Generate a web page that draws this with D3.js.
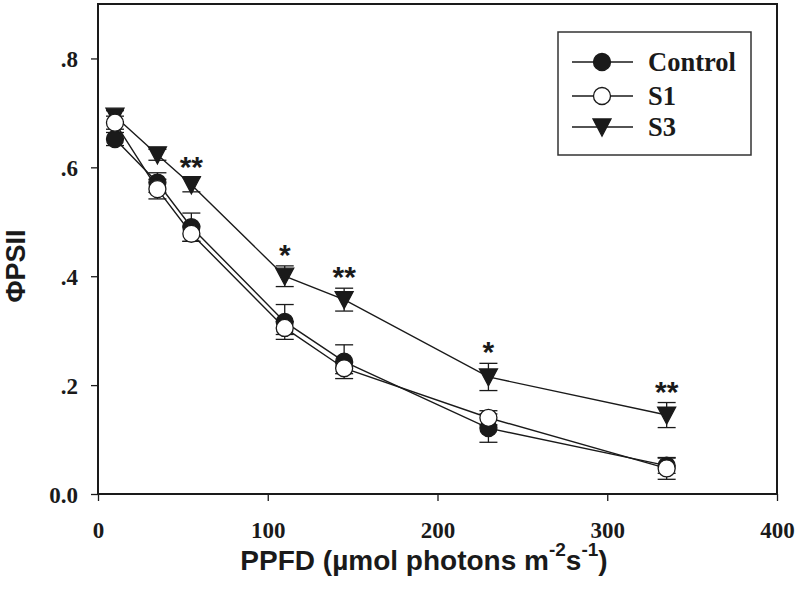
<!DOCTYPE html>
<html>
<head>
<meta charset="utf-8">
<script src="https://cdn.jsdelivr.net/npm/d3@7"></script>
<style>
  html, body { margin: 0; padding: 0; background: #fff; }
  svg { display: block; }
</style>
</head>
<body>
<svg id="chart" width="800" height="595"></svg>
<script>
// ---- data ----
const ppfd = [10, 35, 55, 110, 145, 230, 335];
const controlMean = [0.652, 0.572, 0.490, 0.316, 0.243, 0.121, 0.052];
const controlErr  = [0.012, 0.018, 0.026, 0.032, 0.031, 0.026, 0.014];
const s1Mean = [0.682, 0.560, 0.478, 0.305, 0.231, 0.140, 0.047];
const s1Err  = [0.012, 0.018, 0.014, 0.012, 0.010, 0.013, 0.020];
const s3Mean = [0.694, 0.623, 0.568, 0.400, 0.357, 0.215, 0.145];
const s3Err  = [0.010, 0.010, 0.013, 0.019, 0.021, 0.025, 0.023];
const signif = ["", "", "**", "*", "**", "*", "**"];
const xTicks = [0, 100, 200, 300, 400];
const yTicks = [0, 0.2, 0.4, 0.6, 0.8];
const yTickLabels = ["0.0", ".2", ".4", ".6", ".8"];
const seriesNames = ["Control", "S1", "S3"];

// ---- layout ----
const svg = d3.select("#chart");
const L = 98, R = 777, T = 4, B = 494;
const x = d3.scaleLinear().domain([0, 400]).range([L, R]);
const y = d3.scaleLinear().domain([0, 0.9]).range([B, T]);
const ink = "#1a1a1a";
const serif = "'Liberation Serif', 'Times New Roman', serif";
const sans = "'Liberation Sans', Arial, sans-serif";

// frame
svg.append("rect").attr("x", L).attr("y", T).attr("width", R - L).attr("height", B - T)
  .attr("fill", "none").attr("stroke", ink).attr("stroke-width", 2);

// axes
const xAxis = d3.axisBottom(x).tickValues(xTicks).tickSize(7).tickFormat(d3.format("d"));
const gx = svg.append("g").attr("transform", `translate(0,${B})`).call(xAxis);
gx.select(".domain").remove();
gx.selectAll(".tick line").attr("stroke", ink).attr("stroke-width", 1.3);
gx.selectAll(".tick text").attr("font-family", serif).attr("font-weight", "bold")
  .attr("font-size", 23).attr("fill", ink).attr("y", 44).attr("dy", 0);

const yAxis = d3.axisLeft(y).tickValues(yTicks).tickSize(7)
  .tickFormat((d, i) => yTickLabels[i]);
const gy = svg.append("g").attr("transform", `translate(${L},0)`).call(yAxis);
gy.select(".domain").remove();
gy.selectAll(".tick line").attr("stroke", ink).attr("stroke-width", 1.3);
gy.selectAll(".tick text").attr("font-family", serif).attr("font-weight", "bold")
  .attr("font-size", 23).attr("fill", ink).attr("x", -20).attr("dy", "0.35em");

// axis titles
const xt = svg.append("text").attr("x", 424).attr("y", 570).attr("text-anchor", "middle")
  .attr("font-family", sans).attr("font-weight", "bold").attr("font-size", 28).attr("fill", ink);
xt.append("tspan").text("PPFD (\u00b5mol photons m");
xt.append("tspan").attr("dy", -14).attr("font-size", 19).text("-2");
xt.append("tspan").attr("dy", 14).text("s");
xt.append("tspan").attr("dy", -14).attr("font-size", 19).text("-1");
xt.append("tspan").attr("dy", 14).text(")");

svg.append("text").attr("transform", "translate(25,266) rotate(-90)")
  .attr("text-anchor", "middle").attr("font-family", sans).attr("font-weight", "bold")
  .attr("font-size", 27).attr("fill", ink).text("\u03a6PSII");

// series
const series = [
  { name: seriesNames[0], mean: controlMean, err: controlErr, shape: "circle", fill: ink },
  { name: seriesNames[2], mean: s3Mean, err: s3Err, shape: "tri", fill: ink },
  { name: seriesNames[1], mean: s1Mean, err: s1Err, shape: "circle", fill: "#fff" }
];
const line = d3.line().x(d => x(d[0])).y(d => y(d[1]));
const triPath = "M-9,-8L9,-8L0,9Z";

function drawMarker(g, shape, fill, cx, cy) {
  if (shape === "circle") {
    g.append("circle").attr("cx", cx).attr("cy", cy).attr("r", 8.5)
      .attr("fill", fill).attr("stroke", ink).attr("stroke-width", 1.3);
  } else {
    g.append("path").attr("d", triPath).attr("transform", `translate(${cx},${cy})`)
      .attr("fill", fill).attr("stroke", ink).attr("stroke-width", 1.3);
  }
}

// lines first
series.forEach(s => {
  const pts = ppfd.map((p, i) => [p, s.mean[i]]);
  svg.append("path").attr("d", line(pts)).attr("fill", "none")
    .attr("stroke", ink).attr("stroke-width", 1.4);
});

// error bars and markers
series.forEach(s => {
  const g = svg.append("g");
  ppfd.forEach((p, i) => {
    const cx = x(p), y1 = y(s.mean[i] + s.err[i]), y0 = y(s.mean[i] - s.err[i]);
    g.append("line").attr("x1", cx).attr("x2", cx).attr("y1", y1).attr("y2", y0)
      .attr("stroke", ink).attr("stroke-width", 1.3);
    [y1, y0].forEach(yy => g.append("line").attr("x1", cx - 9).attr("x2", cx + 9)
      .attr("y1", yy).attr("y2", yy).attr("stroke", ink).attr("stroke-width", 1.3));
    drawMarker(g, s.shape, s.fill, cx, y(s.mean[i]));
  });
});

// significance marks
ppfd.forEach((p, i) => {
  if (!signif[i]) return;
  svg.append("text").attr("x", x(p)).attr("y", y(s3Mean[i] + s3Err[i]) - 1)
    .attr("text-anchor", "middle").attr("font-family", sans).attr("font-weight", "bold")
    .attr("font-size", 30).attr("fill", ink).text(signif[i]);
});

// legend
svg.append("rect").attr("x", 558).attr("y", 32).attr("width", 193).attr("height", 123)
  .attr("fill", "#fff").attr("stroke", "#333").attr("stroke-width", 1.5);
const legendRows = [
  { name: seriesNames[0], shape: "circle", fill: ink, cy: 62 },
  { name: seriesNames[1], shape: "circle", fill: "#fff", cy: 96 },
  { name: seriesNames[2], shape: "tri", fill: ink, cy: 127 }
];
legendRows.forEach(r => {
  const g = svg.append("g");
  g.append("line").attr("x1", 572).attr("x2", 633).attr("y1", r.cy).attr("y2", r.cy)
    .attr("stroke", ink).attr("stroke-width", 1.4);
  drawMarker(g, r.shape, r.fill, 602, r.cy);
  g.append("text").attr("x", 648).attr("y", r.cy + 9).attr("font-family", serif)
    .attr("font-weight", "bold").attr("font-size", 26.5).attr("fill", ink).text(r.name);
});
</script>
</body>
</html>
